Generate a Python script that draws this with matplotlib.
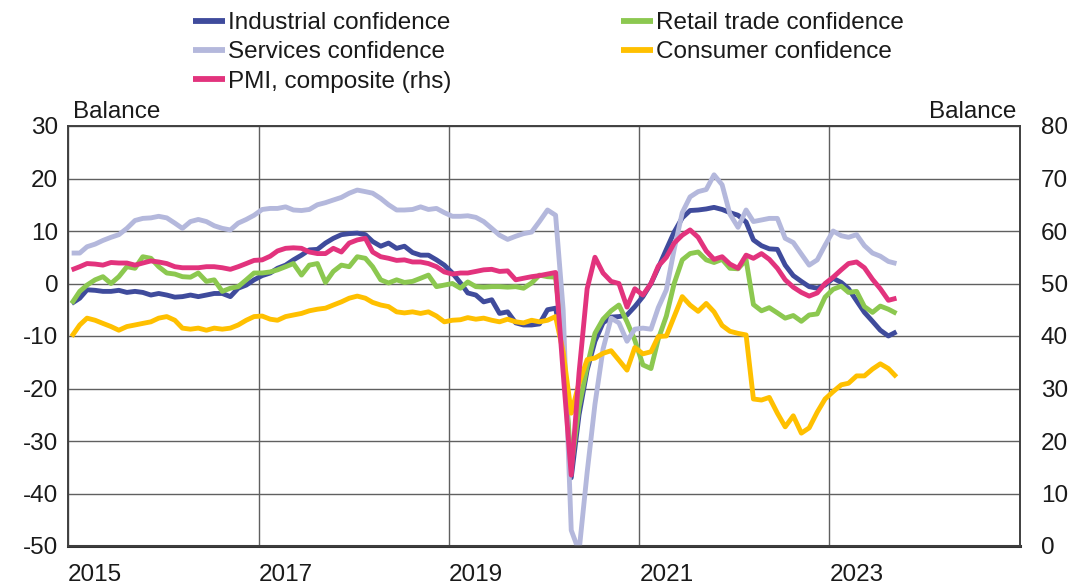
import numpy as np
import pandas as pd
import matplotlib
matplotlib.use("Agg")
import matplotlib.pyplot as plt
import matplotlib.dates as mdates

plt.rcParams['font.family'] = ['Liberation Sans', 'DejaVu Sans']
plt.rcParams['axes.unicode_minus'] = False

# Monthly observations, Jan 2015 - Sep 2023 (plotted mid-month)
months = pd.date_range('2015-01-01', '2023-09-01', freq='MS') + pd.Timedelta(days=14)

industrial = [
    -3.8, -2.8, -1.2, -1.3, -1.5, -1.5, -1.3, -1.7, -1.5, -1.7, -2.2, -1.9,
    -2.2, -2.6, -2.5, -2.2, -2.5, -2.2, -1.9, -1.9, -2.5, -0.9, -0.3, 0.7,
    1.5, 2.0, 2.9, 3.5, 4.5, 5.4, 6.4, 6.5, 7.7, 8.6, 9.3, 9.5,
    9.6, 9.3, 8.0, 7.1, 7.7, 6.7, 7.1, 5.9, 5.4, 5.4, 4.5, 3.5,
    2.0, 0.1, -1.8, -2.2, -3.5, -3.1, -5.7, -5.4, -7.5, -7.9, -7.9, -7.7,
    -5.0, -4.7, -12.0, -37.0, -25.0, -16.5, -11.0, -7.5, -6.4, -6.3, -6.0, -4.4,
    -2.5, 0.0, 3.0, 6.5, 9.8, 12.5, 13.9, 14.0, 14.2, 14.5, 14.1, 13.5,
    13.0, 11.7, 8.3, 7.2, 6.6, 6.5, 3.5, 1.5, 0.4, -0.6, -0.9, -0.3,
    1.0, 0.2, -1.0, -3.3, -5.5, -7.2, -8.9, -10.0, -9.2,
]

retail = [
    -3.8, -1.5, -0.3, 0.7, 1.3, 0.0, 1.3, 3.2, 2.9, 5.1, 4.8, 3.2,
    2.0, 1.8, 1.3, 1.2, 2.0, 0.4, 0.7, -1.5, -0.9, -0.6, 0.7, 2.0,
    2.0, 2.2, 2.6, 3.2, 3.8, 1.6, 3.5, 3.8, 0.2, 2.3, 3.5, 3.2,
    5.1, 4.8, 3.2, 0.7, 0.1, 0.7, 0.2, 0.4, 1.0, 1.6, -0.6, -0.3,
    0.0, -0.9, 0.3, -0.6, -0.7, -0.6, -0.6, -0.7, -0.6, -0.9, 0.1, 1.6,
    1.3, 1.2, -12.0, -35.0, -23.5, -15.8, -9.5, -6.8, -5.2, -4.1, -7.3, -10.8,
    -15.5, -16.2, -10.6, -6.2, 0.0, 4.5, 5.7, 6.0, 4.5, 4.0, 4.6, 2.9,
    2.8, 4.5, -4.0, -5.2, -4.6, -5.6, -6.6, -6.1, -7.2, -6.0, -5.8, -2.6,
    -1.1, -0.5, -1.7, -1.5, -4.4, -5.5, -4.3, -4.9, -5.7,
]

services = [
    5.8, 5.8, 7.0, 7.5, 8.2, 8.8, 9.3, 10.5, 12.0, 12.4, 12.5, 12.8,
    12.5, 11.5, 10.5, 11.8, 12.2, 11.8, 11.0, 10.5, 10.2, 11.5, 12.2, 13.0,
    14.1, 14.3, 14.3, 14.6, 14.0, 13.9, 14.1, 15.0, 15.4, 15.9, 16.4, 17.2,
    17.8, 17.5, 17.2, 16.2, 15.0, 14.0, 14.0, 14.1, 14.6, 14.1, 14.3, 13.5,
    12.8, 12.8, 12.9, 12.6, 11.8, 10.5, 9.2, 8.4, 9.0, 9.5, 9.8, 11.8,
    14.0, 13.0, -5.0, -47.0, -51.0, -36.0, -23.0, -12.5, -6.6, -7.5, -11.0, -8.7,
    -8.5, -8.7, -4.6, -1.2, 6.5, 13.5, 16.5, 17.5, 17.9, 20.7, 18.8, 13.2,
    10.7, 14.0, 11.8, 12.1, 12.4, 12.4, 8.6, 7.8, 5.6, 3.5, 4.5, 7.3,
    10.0, 9.1, 8.8, 9.3, 7.2, 5.8, 5.2, 4.2, 3.8,
]

consumer = [
    -10.1, -7.9, -6.6, -7.0, -7.6, -8.2, -8.9, -8.2, -7.9, -7.6, -7.3, -6.6,
    -6.3, -7.0, -8.5, -8.7, -8.5, -8.9, -8.5, -8.7, -8.5, -7.9, -7.0, -6.3,
    -6.2, -6.8, -7.0, -6.3, -6.0, -5.7, -5.2, -4.9, -4.7, -4.1, -3.5, -2.8,
    -2.4, -2.8, -3.6, -4.1, -4.4, -5.4, -5.6, -5.4, -5.7, -5.4, -6.2, -7.3,
    -7.0, -6.9, -6.5, -6.8, -6.6, -7.0, -7.3, -6.8, -7.3, -7.5, -7.0, -7.3,
    -7.0, -6.3, -13.0, -24.7, -19.0, -14.5, -14.2, -13.3, -12.8, -14.6, -16.5, -12.2,
    -13.4, -13.0, -10.1, -10.0, -6.3, -2.5, -4.1, -5.3, -3.8, -5.4, -8.0, -9.1,
    -9.5, -9.8, -22.0, -22.2, -21.7, -24.7, -27.3, -25.2, -28.5, -27.5, -24.5, -22.0,
    -20.6, -19.3, -19.0, -17.6, -17.6, -16.3, -15.3, -16.2, -17.8,
]

pmi = [
    52.6, 53.2, 53.8, 53.7, 53.5, 54.0, 53.9, 53.9, 53.5, 53.9, 54.3, 54.1,
    53.8, 53.2, 53.0, 53.0, 53.0, 53.2, 53.2, 53.0, 52.7, 53.2, 53.8, 54.4,
    54.5, 55.2, 56.2, 56.7, 56.8, 56.7, 56.0, 55.7, 55.7, 56.7, 56.0, 57.7,
    58.3, 58.6, 56.0, 55.1, 54.8, 54.4, 54.5, 54.1, 54.1, 53.8, 53.2, 52.2,
    51.8, 52.0, 52.0, 52.3, 52.6, 52.7, 52.3, 52.4, 50.7, 51.0, 51.3, 51.5,
    51.8, 52.1, 33.0, 13.5, 33.0, 49.0, 55.0, 52.0, 50.4, 50.0, 45.5, 49.0,
    47.8, 50.0, 53.3, 55.0, 57.7, 59.2, 60.2, 58.8, 56.2, 54.6, 55.1, 53.7,
    52.9, 55.4, 54.8, 55.7, 54.6, 52.9, 50.7, 49.3, 48.3, 47.6, 48.2, 50.0,
    51.2, 52.6, 53.8, 54.1, 53.0, 50.8, 49.0, 46.8, 47.2,
]

labels = ["Industrial confidence", "Retail trade confidence", "Services confidence",
          "Consumer confidence", "PMI, composite (rhs)"]
colors = ["#3F4B9C", "#8CC850", "#B4B8DC", "#FFC000", "#E2337D"]

left_ticks = list(range(-50, 31, 10))
right_ticks = list(range(0, 81, 10))
year_ticks = [2015, 2017, 2019, 2021, 2023]

W, H = 1073, 587
fig = plt.figure(figsize=(W / 100, H / 100), dpi=100)
ax = fig.add_axes([68 / W, 1 - 546 / H, 952 / W, 420 / H])
ax2 = ax.twinx()

lw = 3.5
fs = 17.5
handles = []
for series, lab, col in zip([industrial, retail, services, consumer], labels[:4], colors[:4]):
    h, = ax.plot(months, series, color=col, lw=lw, label=lab, solid_joinstyle='round',
                 solid_capstyle='butt', zorder=3)
    handles.append(h)
hp, = ax2.plot(months, pmi, color=colors[4], lw=lw, label=labels[4], solid_joinstyle='round',
               solid_capstyle='butt', zorder=3)
handles.append(hp)

ax.set_ylim(-50, 30)
ax2.set_ylim(0, 80)
ax.set_yticks(left_ticks)
ax2.set_yticks(right_ticks)
ax.set_xlim(pd.Timestamp('2015-01-01'), pd.Timestamp('2025-01-01'))
ax.set_xticks([pd.Timestamp(f'{y}-01-01') for y in year_ticks])
ax.xaxis.set_major_formatter(mdates.DateFormatter('%Y'))
for t in ax.get_xticklabels():
    t.set_horizontalalignment('left')

ax.grid(True, color='#606060', lw=1.0, zorder=0)
ax.set_axisbelow(True)
ax.tick_params(axis='both', length=0, labelsize=fs, colors='#1a1a1a')
ax.tick_params(axis='y', pad=7)
ax.tick_params(axis='x', pad=13)
ax2.tick_params(axis='y', length=0, labelsize=fs, pad=15, colors='#1a1a1a')
for a in (ax, ax2):
    for s in a.spines.values():
        s.set_color('#404040')
        s.set_linewidth(1.2)
ax.spines['bottom'].set_linewidth(2.2)
ax.spines['bottom'].set_color('#333333')

ax.text(0.005, 1.008, "Balance", transform=ax.transAxes, ha='left', va='bottom', fontsize=fs,
        color='#1a1a1a')
ax.text(0.9965, 1.008, "Balance", transform=ax.transAxes, ha='right', va='bottom', fontsize=fs,
        color='#1a1a1a')

order = [0, 2, 4, 1, 3]
leg = fig.legend([handles[i] for i in order], [labels[i] for i in order],
                 loc='upper left', bbox_to_anchor=(193 / W, 1 - 12 / H), ncol=2,
                 frameon=False, fontsize=fs, handlelength=1.3, handletextpad=0.12,
                 columnspacing=7.0, labelspacing=0.3, borderpad=0, borderaxespad=0)
for line in leg.get_lines():
    line.set_linewidth(4.2)
for t in leg.get_texts():
    t.set_color('#1a1a1a')

fig.savefig("out.png", dpi=100)
